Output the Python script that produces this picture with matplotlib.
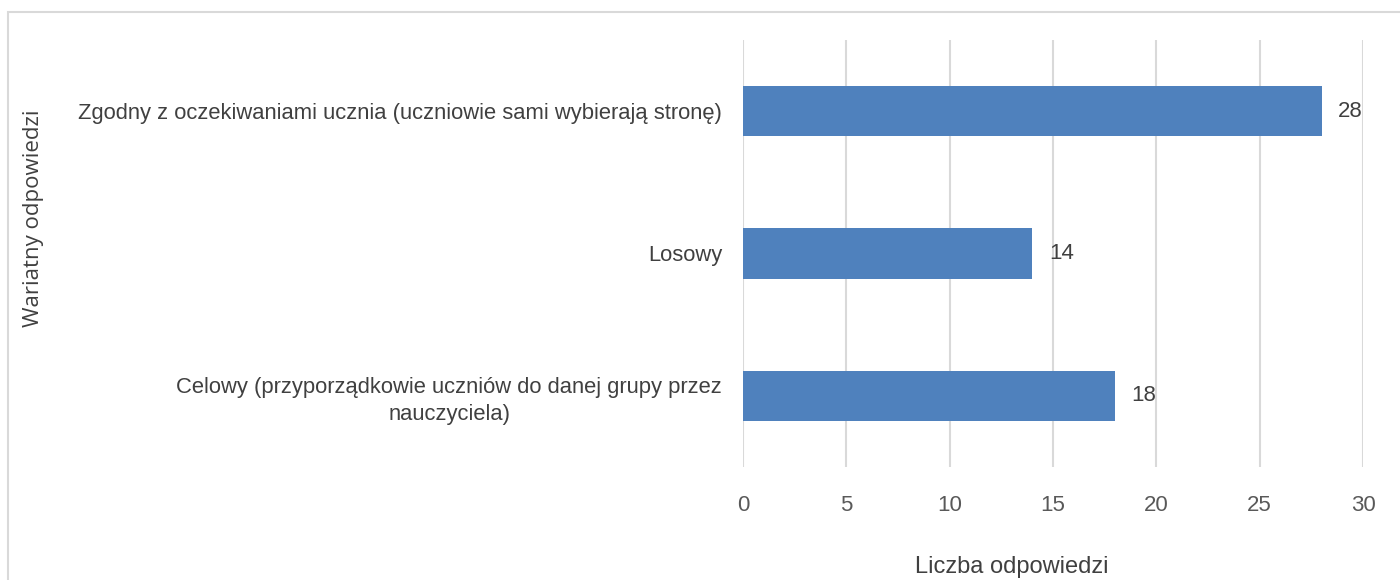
import matplotlib
matplotlib.use("Agg")
import matplotlib.pyplot as plt
from matplotlib.patches import Rectangle

categories = [
    "Zgodny z oczekiwaniami ucznia (uczniowie sami wybierają stronę)",
    "Losowy",
    "Celowy (przyporządkowie uczniów do danej grupy przez\nnauczyciela)",
]
values = [28, 14, 18]
xticks = [0, 5, 10, 15, 20, 25, 30]
xlabel = "Liczba odpowiedzi"
ylabel = "Wariatny odpowiedzi"

W, H = 1400, 580
narrow = ["Liberation Sans Narrow", "Liberation Sans", "DejaVu Sans"]
plt.rcParams["font.family"] = narrow

fig = plt.figure(figsize=(W / 100, H / 100), dpi=100)
ax = fig.add_axes([743 / W, 1 - 467 / H, 620 / W, 427 / H])

pos = list(range(len(categories)))
bars = ax.barh(pos, values, height=0.352, color="#4F81BD", zorder=3)
ax.set_ylim(len(categories) - 0.5, -0.5)
ax.set_xlim(0, 30)
ax.set_xticks(xticks)
ax.set_yticks(pos)
ax.set_yticklabels(categories, fontsize=15.8, color="#404040", ha="right",
                   multialignment="center", linespacing=1.35)
ax.tick_params(axis="y", length=0, pad=15)
ax.tick_params(axis="x", length=0, pad=20, labelsize=16, labelcolor="#595959")
ax.grid(axis="x", color="#D9D9D9", linewidth=1.5, zorder=0)
ax.grid(axis="y", visible=False)
for s in ax.spines.values():
    s.set_visible(False)

ax.bar_label(bars, labels=[str(v) for v in values], padding=12, fontsize=16,
             color="#404040")

fig.text(1012 / W, 1 - 567 / H, xlabel, ha="center", va="center",
         fontsize=17, color="#404040")
fig.text(34 / W, 1 - 218 / H, ylabel, ha="center", va="center",
         rotation=90, fontsize=16, color="#404040", family="Open Sans")

fig.patches.append(Rectangle((7.5 / W, -0.05), 1.1, 1 - 11.5 / H + 0.05,
                             transform=fig.transFigure, fill=False,
                             edgecolor="#D9D9D9", linewidth=1.5))

fig.savefig("out.png", dpi=100)
